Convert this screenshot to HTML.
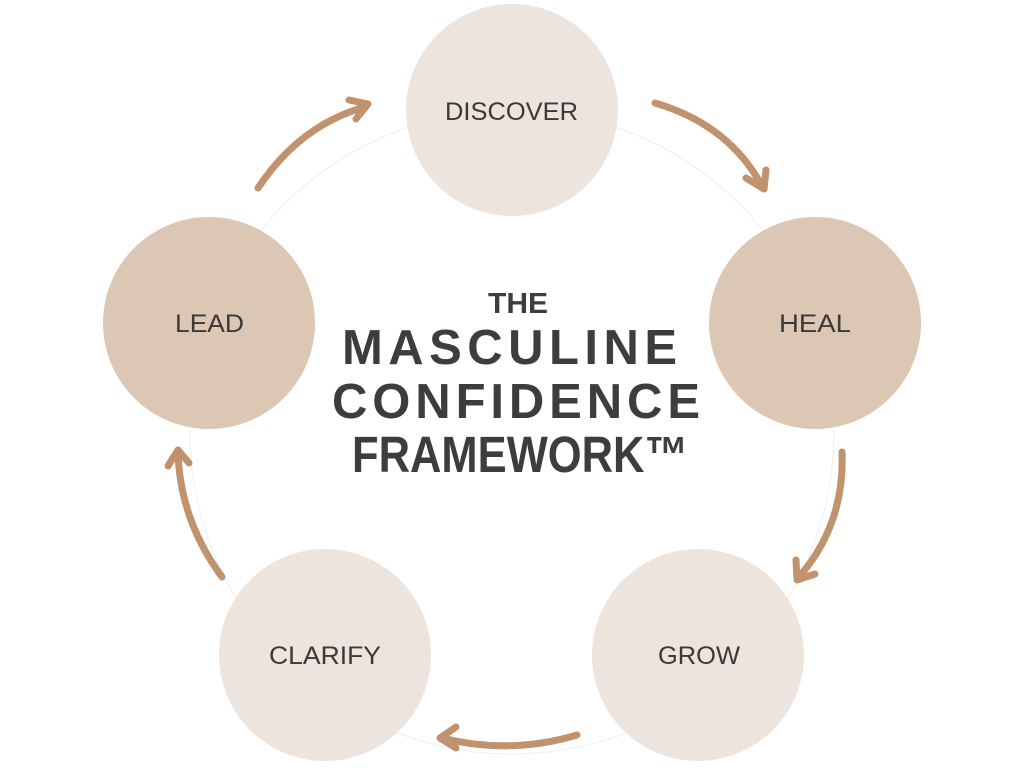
<!DOCTYPE html>
<html><head><style>
html,body{margin:0;padding:0;background:#fff;width:1024px;height:768px;overflow:hidden}
svg{display:block}
</style></head><body>
<svg width="1024" height="768" viewBox="0 0 1024 768" xmlns="http://www.w3.org/2000/svg">
<circle cx="512" cy="432" r="322" fill="none" stroke="#eeeeee" stroke-width="1"/>
<g fill="#ece4dd">
<circle cx="512" cy="110" r="106"/>
<circle cx="698" cy="655" r="106"/>
<circle cx="325" cy="655" r="106"/>
</g>
<g fill="#dcc6b4">
<circle cx="815" cy="323" r="106"/>
<circle cx="209" cy="323" r="106"/>
</g>
<g fill="none" stroke="#c0926e" stroke-width="7" stroke-linecap="round" stroke-linejoin="round">
<path d="M258 188 Q300 125 365 107"/>
<path d="M349 100 L368 104 L356 119"/>
<path d="M655 103 Q730 125 763 188"/>
<path d="M746 178 L764 189 L766 170"/>
<path d="M842 452 Q845 525 798 578"/>
<path d="M796 560 L797 580 L815 574"/>
<path d="M577 735 Q510 755 442 738"/>
<path d="M456 727 L440 738 L456 748"/>
<path d="M222 577 Q180 520 178 452"/>
<path d="M168 466 L178 450 L189 463"/>
</g>
<g font-family="Liberation Sans, sans-serif" fill="#3a3a3a" font-size="25">
<text x="445" y="120" textLength="133" lengthAdjust="spacingAndGlyphs">DISCOVER</text>
<text x="779" y="332" textLength="72" lengthAdjust="spacingAndGlyphs">HEAL</text>
<text x="658" y="664" textLength="82" lengthAdjust="spacingAndGlyphs">GROW</text>
<text x="269" y="664" textLength="112" lengthAdjust="spacingAndGlyphs">CLARIFY</text>
<text x="175" y="332" textLength="69" lengthAdjust="spacingAndGlyphs">LEAD</text>
</g>
<g font-family="Liberation Sans, sans-serif" fill="#3d3d3d" font-weight="bold">
<text x="488" y="313" font-size="29" textLength="60" lengthAdjust="spacingAndGlyphs">THE</text>
<text x="342" y="364" font-size="49" textLength="335" lengthAdjust="spacing">MASCULINE</text>
<text x="332" y="418" font-size="49" textLength="368" lengthAdjust="spacing">CONFIDENCE</text>
<text x="352" y="472" font-size="51" textLength="336" lengthAdjust="spacingAndGlyphs">FRAMEWORK™</text>
</g>
</svg>
</body></html>
